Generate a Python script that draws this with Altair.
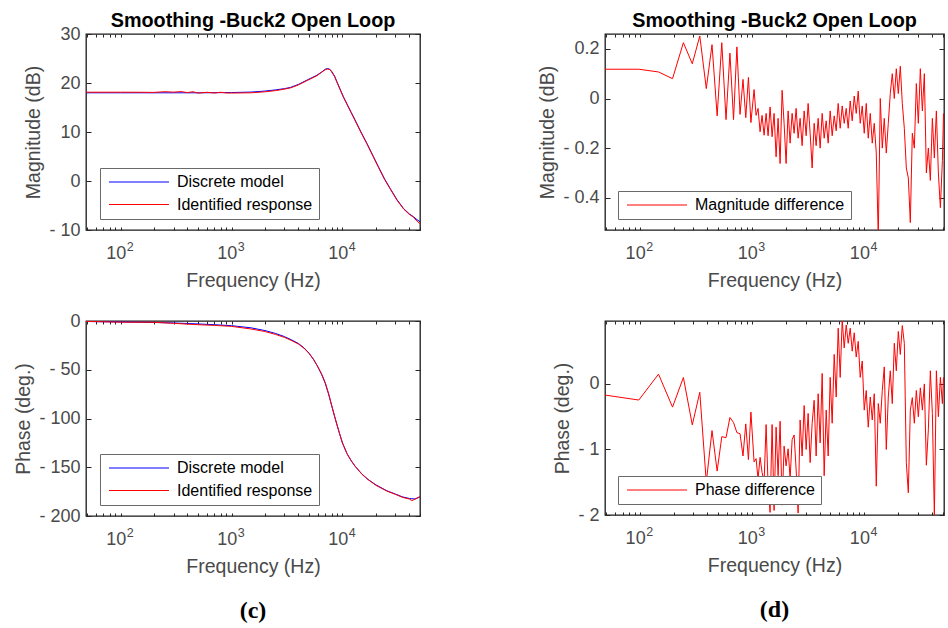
import altair as alt
import pandas as pd

# ---------------- data ----------------
# (c) top: magnitude, discrete model
MAG_F = [48.8, 100, 200, 500, 1000, 1500, 2000, 2500, 3000, 3400, 4000, 4800, 5900, 6500,
         7000, 7300, 7700, 8000, 8500, 8900, 9500, 10200, 11000, 12000, 13000, 15000, 16600,
         19000, 21100, 24000, 26900, 31000, 35500, 40000, 43700, 47000, 50000]
MAG_MODEL = [18.0, 18.0, 18.0, 18.0, 18.05, 18.15, 18.35, 18.6, 18.85, 19.1, 19.7, 20.6, 21.6, 22.25,
             22.8, 22.95, 22.8, 22.35, 21.4, 20.3, 18.8, 17.2, 15.7, 14.0, 12.45, 9.6, 7.7,
             5.0, 2.9, 0.4, -1.5, -3.8, -5.6, -6.7, -7.3, -7.9, -8.3]
# (c) top: magnitude, identified response
MAG_ID_F = [48.8, 100, 150, 200, 250, 300, 350, 400, 450, 500, 600, 700, 800, 900, 1000, 1500,
            2000, 2500, 3000, 3400, 4000, 4800, 5900, 6500, 7000, 7300, 7700, 8000, 8500, 8900,
            9500, 10200, 11000, 12000, 13000, 15000, 16600, 19000, 21100, 24000, 26900, 31000,
            35500, 40000, 43700, 47000, 50000]
MAG_ID = [18.12, 18.12, 18.11, 18.08, 18.23, 18.14, 18.25, 18.04, 18.22, 17.93, 18.1, 17.95, 18.1,
          17.96, 17.95, 18.0, 18.2, 18.45, 18.75, 19.0, 19.6, 20.5, 21.5, 22.2, 22.7, 22.85, 22.75,
          22.25, 21.3, 20.2, 18.7, 17.1, 15.6, 13.9, 12.3, 9.5, 7.6, 4.9, 2.8, 0.3, -1.6, -3.9,
          -5.7, -6.8, -7.4, -8.2, -8.7]

# (c) bottom: phase
PH_F = [48.8, 100, 200, 300, 500, 700, 1000, 1500, 2000, 2500, 3000, 3500, 4000, 4500, 5000,
        5500, 6000, 6500, 7000, 7500, 8000, 8500, 9000, 9500, 10000, 11000, 12000, 13000, 15000,
        17000, 20000, 25000, 30000, 35000, 40000, 42200, 45000, 50000]
PH_MODEL = [-0.5, -1.0, -1.5, -2.0, -3.0, -3.8, -4.8, -7.0, -9.8, -12.8, -16.0, -19.5, -23.0,
            -27.5, -33.0, -39.5, -47.0, -55.0, -64.0, -75.0, -87.0, -98.0, -108.0, -117.0, -125.0,
            -136.0, -143.5, -149.0, -157.0, -162.5, -168.0, -174.0, -177.5, -180.5, -182.0,
            -182.3, -182.5, -180.5]
PH_ID = [-0.4, -1.2, -1.3, -2.4, -3.8, -4.5, -5.5, -8.2, -10.8, -13.8, -16.8, -20.2, -23.6,
         -27.9, -33.3, -39.6, -47.0, -54.4, -63.2, -74.4, -86.5, -97.7, -107.8, -116.8, -125.3,
         -136.3, -143.2, -148.9, -157.3, -162.6, -168.5, -174.3, -177.8, -181.0, -182.5,
         -184.2, -182.8, -180.0]

# (d): difference traces, sampled frequencies
DIFF_F = [48.8, 97.7, 146.5, 195.3, 244.1, 293.0, 341.8, 390.6, 439.5, 488.3, 537.1, 585.9,
          634.8, 683.6, 732.4, 781.3, 830.1, 878.9, 927.7, 976.6,
          1042, 1086, 1131, 1179, 1228, 1280, 1334, 1390, 1448, 1509, 1572, 1638, 1707, 1779,
          1853, 1931, 2012, 2097, 2185, 2276, 2372, 2471, 2575, 2683, 2796, 2914, 3036, 3163,
          3296, 3435, 3579, 3729, 3886, 4049, 4219, 4397, 4581, 4774, 4974, 5183, 5401, 5628,
          5864, 6110, 6367, 6634, 6913, 7203, 7506, 7821, 8150, 8492, 8849, 9220, 9608, 10011,
          10432, 10870, 11327, 11802, 12298, 12815, 13353, 13914, 14498, 15107, 15742, 16403,
          17092, 17810, 18558, 19337, 20149, 20996, 21878, 22796, 23754, 24751, 25791, 26874,
          28003, 29179, 30404, 31681, 33012, 34398, 35843, 37348, 38917, 40552, 42255, 44030,
          45879, 47806, 49814, 51000]
MAG_DIFF = [0.118, 0.118, 0.107, 0.080, 0.225, 0.140, 0.252, 0.040, 0.217, -0.070, 0.225, -0.085,
            0.183, -0.085, 0.208, -0.064, 0.077, -0.077, 0.085, -0.097,
            0.036, -0.068, -0.040, -0.134, -0.068, -0.148, -0.060, -0.150, -0.034, -0.154,
            -0.060, -0.235, -0.080, -0.262, 0.033, -0.100, -0.262, -0.050, -0.180, -0.060,
            -0.140, -0.040, -0.160, -0.080, -0.190, -0.050, -0.150, -0.020, -0.140, -0.280,
            -0.100, -0.190, -0.080, -0.200, -0.060, -0.160, -0.090, -0.180, -0.050, -0.150,
            -0.070, -0.130, -0.020, -0.120, -0.030, -0.100, -0.040, -0.120, -0.010, -0.090,
            0.010, -0.060, 0.030, -0.100, -0.030, -0.140, -0.020, -0.160, -0.060, -0.180,
            -0.100, -0.220, -0.560, 0.000, -0.200, -0.080, -0.220, -0.100, 0.020, 0.100,
            0.000, 0.120, 0.020, 0.130, -0.020, -0.120, -0.280, -0.320, -0.500, -0.140,
            -0.200, 0.060, -0.100, 0.120, -0.050, 0.100, -0.300, -0.200, -0.330, -0.080,
            -0.240, -0.050, -0.300, -0.440, -0.250, -0.060]
PH_DIFF = [-0.17, -0.246, 0.149, -0.354, 0.098, -0.625, -0.128, -1.50, -0.712, -1.33, -0.805,
           -0.82, -0.512, -0.59, -0.743, -0.76, -1.10, -0.61, -1.154, -0.43,
           -1.19, -1.14, -1.45, -1.12, -1.35, -1.50, -0.62, -1.55, -1.96, -0.62,
           -1.93, -0.66, -1.40, -0.57, -1.85, -0.95, -1.25, -0.99, -1.45, -0.85,
           -0.78, -1.30, -1.97, -0.55, -1.10, -0.33, -1.00, -0.45, -1.20, -0.60,
           -0.25, -1.10, -0.15, -0.90, 0.16, -1.40, -0.40, -1.10, 0.10, -0.60,
           0.45, -0.20, 0.85, 0.10, 0.98, 0.55, 0.90, 0.62, 0.85, 0.50,
           0.78, 0.41, 0.65, 0.10, 0.35, -0.40, -0.10, -0.66, -0.20, -0.55,
           -0.15, -1.56, -0.30, -0.60, -0.10, 0.26, -1.00, -0.20, 0.20, -0.30,
           0.62, 0.20, 0.80, 0.45, 0.89, 0.62, -1.20, -1.66, -0.40, -0.21,
           -0.60, -0.10, -0.50, -0.06, -0.40, 0.00, -1.24, -0.70, 0.20, -0.45,
           -2.02, 0.20, -0.50, 0.10, -0.30, 0.10]

SERIES_C = ["Discrete model", "Identified response"]
TITLE_TOP = "Smoothing -Buck2 Open Loop"
X_TITLE = "Frequency (Hz)"
X_TICKS = [50, 60, 70, 80, 90, 100, 200, 300, 400, 500, 600, 700, 800, 900, 1000, 2000, 3000,
           4000, 5000, 6000, 7000, 8000, 9000, 10000, 20000, 30000, 40000, 50000]
X_DECADES = [100, 1000, 10000]

# ---------------- styling ----------------
SANS = "Liberation Sans"
TXT = "#4a4a4a"
INK = "#262626"

X_BASE_EXPR = "(datum.value === 100 || datum.value === 1000 || datum.value === 10000) ? '10' : ''"
X_EXP_EXPR = "datum.value === 100 ? '2' : datum.value === 1000 ? '3' : '4'"


def neg_expr(fmt):
    return ("datum.value == 0 ? '0' : datum.value < 0 ? '- ' + format(-datum.value, '%s') : "
            "format(datum.value, '%s')" % (fmt, fmt))


def panel(df, dom, rng, xdom, ydom, yvals, yfmt, ytitle, w, h, lx, ly, title):
    xs = alt.Scale(type="log", domain=xdom, nice=False)
    ys = alt.Scale(domain=ydom, nice=False, zero=False)
    base = alt.Chart(df)
    lines = base.mark_line(clip=True, strokeWidth=1).encode(
        x=alt.X("f:Q", scale=xs, axis=alt.Axis(
            values=X_TICKS, labelExpr=X_BASE_EXPR, title=X_TITLE, orient="bottom",
            offset=-3, tickSize=3, tickColor=INK, domain=False, grid=False,
            labelOverlap=False, labelFlush=False, labelFont=SANS, labelFontSize=18,
            labelColor=TXT, labelPadding=14, labelOffset=-4.8, titleFont=SANS,
            titleFontSize=19.5, titleFontWeight="normal", titleColor=TXT, titlePadding=9)),
        y=alt.Y("v:Q", scale=ys, axis=alt.Axis(
            values=yvals, labelExpr=neg_expr(yfmt), title=ytitle, orient="left",
            offset=-5, tickSize=5, tickColor=INK, domain=False, grid=False,
            labelOverlap=False, labelFlush=False, labelFont=SANS, labelFontSize=18,
            labelColor=TXT, labelPadding=6, titleFont=SANS, titleFontSize=19.5,
            titleFontWeight="normal", titleColor=TXT, titlePadding=5)),
        color=alt.Color("s:N", scale=alt.Scale(domain=dom, range=rng), legend=alt.Legend(
            orient="none", legendX=lx, legendY=ly, direction="vertical", title=None,
            fillColor="white", strokeColor="#6a6a6a", padding=6, cornerRadius=0,
            symbolType="M-1,0L11,0", symbolSize=100, symbolStrokeWidth=1,
            labelFont=SANS, labelFontSize=16, labelColor="black", labelOffset=55,
            labelLimit=400, rowPadding=6.5)),
    )
    frame = base.mark_line(opacity=0).encode(
        x=alt.X("f:Q", scale=xs, axis=alt.Axis(
            values=X_TICKS, orient="top", labels=False, title=None, offset=-3, tickSize=3,
            tickColor=INK, domain=False, grid=False)),
        y=alt.Y("v:Q", scale=ys, axis=alt.Axis(
            values=yvals, orient="right", labels=False, title=None, offset=-5, tickSize=5,
            tickColor=INK, domain=False, grid=False)),
    )
    exps = base.mark_line(opacity=0).encode(
        x=alt.X("f:Q", scale=xs, axis=alt.Axis(
            values=X_DECADES, orient="bottom", labelExpr=X_EXP_EXPR, title=None,
            ticks=False, tickSize=0, domain=False, grid=False, labelOverlap=False,
            labelFlush=False, labelFont=SANS, labelFontSize=12.5, labelColor=TXT,
            labelPadding=10.5, labelOffset=9.2)),
        y=alt.Y("v:Q", scale=ys, axis=None),
    )
    return alt.layer(lines, frame, exps).resolve_axis(
        x="independent", y="independent").properties(width=w, height=h, title=title)


def top_title(off):
    return alt.TitleParams(text=TITLE_TOP, font=SANS, fontSize=19.8, fontWeight="bold",
                           color="black", anchor="middle", frame="group", offset=off)


def bottom_title(t):
    return alt.TitleParams(text=t, orient="bottom", font="Liberation Serif", fontSize=24,
                           fontWeight="bold", color="black", anchor="middle", frame="group",
                           offset=23)


df_mag = pd.concat([
    pd.DataFrame({"f": MAG_F, "v": MAG_MODEL, "s": SERIES_C[0]}),
    pd.DataFrame({"f": MAG_ID_F, "v": MAG_ID, "s": SERIES_C[1]}),
])
df_ph = pd.concat([
    pd.DataFrame({"f": PH_F, "v": PH_MODEL, "s": SERIES_C[0]}),
    pd.DataFrame({"f": PH_F, "v": PH_ID, "s": SERIES_C[1]}),
])
df_md = pd.DataFrame({"f": DIFF_F, "v": MAG_DIFF, "s": "Magnitude difference"})
df_pd = pd.DataFrame({"f": DIFF_F, "v": PH_DIFF, "s": "Phase difference"})

tl = panel(df_mag, SERIES_C, ["#0000ff", "#ff0000"], [48.8, 50000], [-10, 30],
           [-10, 0, 10, 20, 30], "d", "Magnitude (dB)", 334, 196, 14, 134, top_title(-6))
tr = panel(df_md, ["Magnitude difference"], ["#ff0000"], [48.8, 51500], [-0.53, 0.26],
           [-0.4, -0.2, 0, 0.2], ".1f", "Magnitude (dB)", 339, 196, 13, 157, top_title(3))
bl = panel(df_ph, SERIES_C, ["#0000ff", "#ff0000"], [48.8, 50000], [-200, 0],
           [-200, -150, -100, -50, 0], "d", "Phase (deg.)", 334, 195, 14, 133,
           bottom_title("(c)"))
br = panel(df_pd, ["Phase difference"], ["#ff0000"], [48.8, 51500], [-2, 0.96],
           [-2, -1, 0], "d", "Phase (deg.)", 339, 194, 13, 155, bottom_title("(d)"))

chart = alt.concat(tl, tr, bl, br, columns=2, spacing={"row": 91, "column": 185},
                   bounds="flush").resolve_scale(
    color="independent", x="independent", y="independent").properties(
    padding={"left": 13, "top": 10, "right": 0, "bottom": 0}, background="white"
).configure_view(stroke="#1a1a1a", strokeWidth=1.3)

chart.save("out.html", embed_options={"renderer": "svg", "actions": False})
